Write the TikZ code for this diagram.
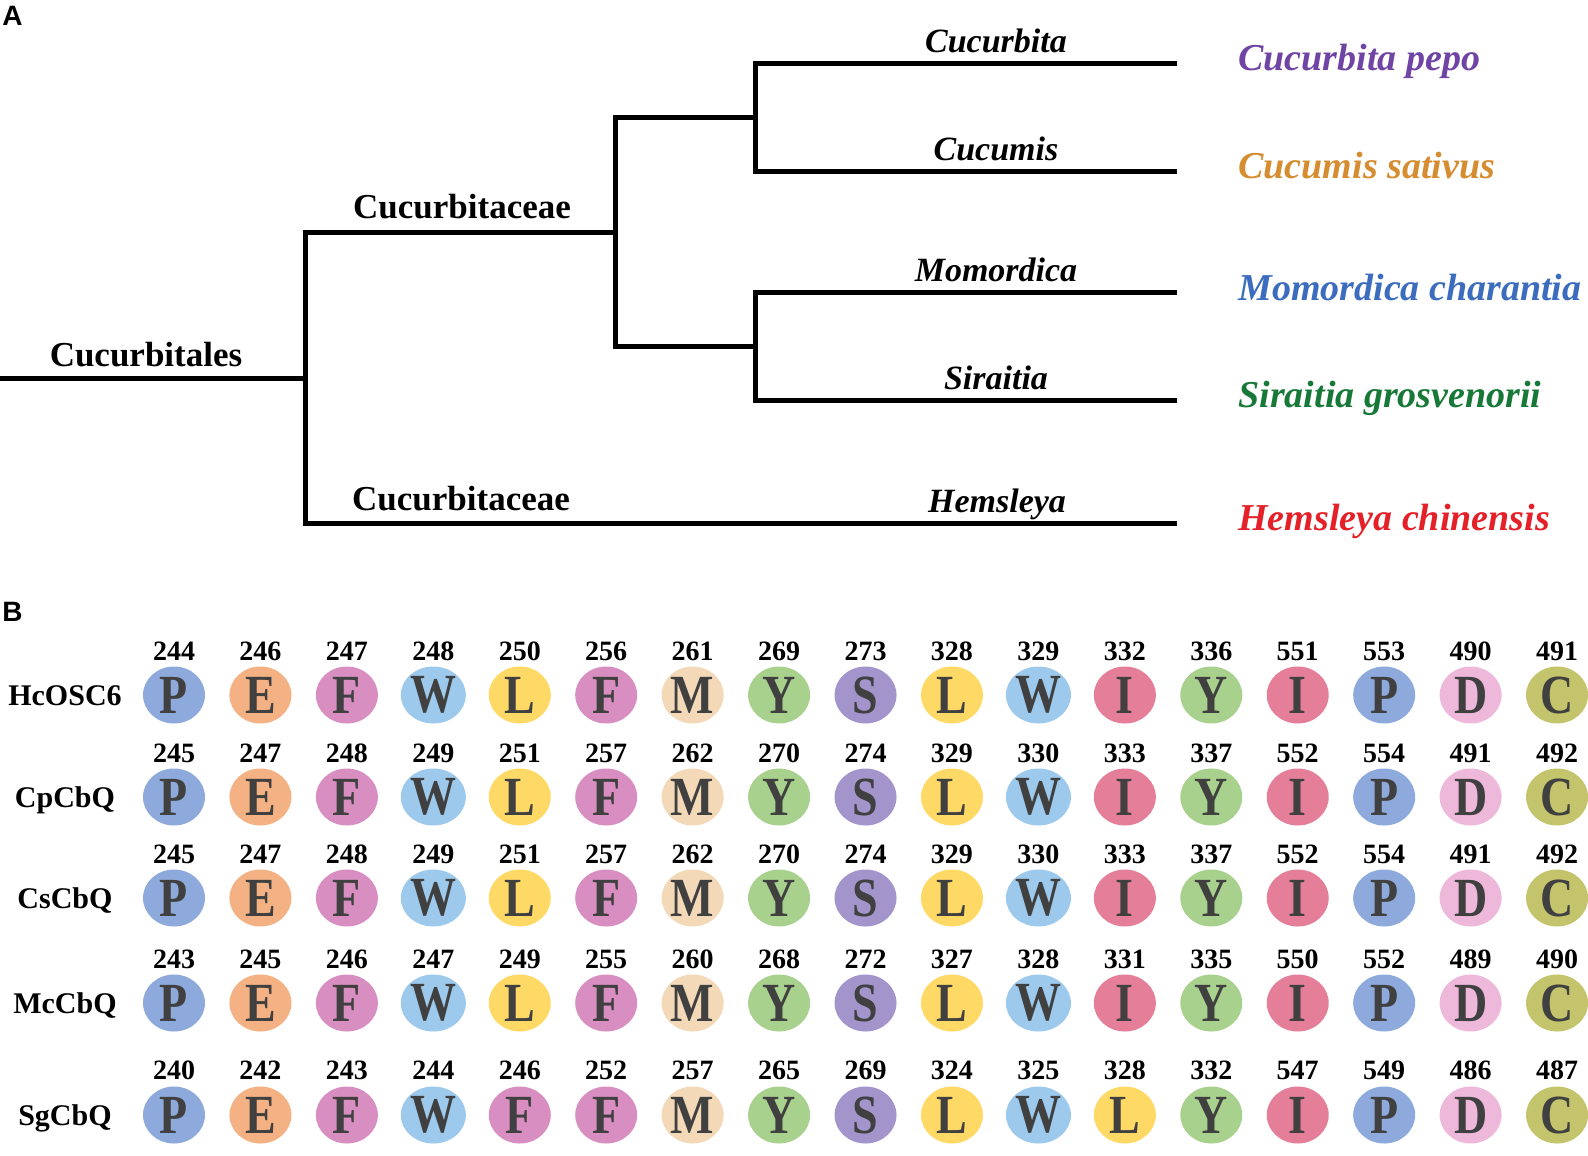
\documentclass[tikz,border=0pt]{standalone}
\usepackage{graphicx}
\usepackage{fontspec}
\setmainfont{Liberation Serif}
\newfontfamily\panelfont{Liberation Sans}
\usetikzlibrary{shapes.geometric}
\definecolor{resP}{HTML}{8EA9DB}
\definecolor{resE}{HTML}{F4B183}
\definecolor{resF}{HTML}{D98EC1}
\definecolor{resW}{HTML}{9DC9EC}
\definecolor{resL}{HTML}{FFD966}
\definecolor{resM}{HTML}{F3D9B8}
\definecolor{resY}{HTML}{A9D18E}
\definecolor{resS}{HTML}{A394CC}
\definecolor{resI}{HTML}{E57E99}
\definecolor{resD}{HTML}{EEB8DB}
\definecolor{resC}{HTML}{C4C46C}
\definecolor{letter}{HTML}{404040}
\definecolor{spCp}{HTML}{7044A4}
\definecolor{spCs}{HTML}{D68C30}
\definecolor{spMc}{HTML}{3C6CBE}
\definecolor{spSg}{HTML}{187838}
\definecolor{spHc}{HTML}{E42028}
\tikzset{
  branch/.style={line width=2.5pt, line join=miter},
  clade/.style={font=\fontsize{17.5}{17.5}\selectfont\bfseries, inner sep=0pt, anchor=base},
  genus/.style={font=\fontsize{17}{17}\selectfont\bfseries\itshape, inner sep=0pt, anchor=base},
  species/.style={font=\fontsize{19}{19}\selectfont\bfseries\itshape, inner sep=0pt, anchor=base west},
  panel/.style={font=\fontsize{14}{14}\selectfont\panelfont\bfseries, inner sep=0pt, anchor=base west},
  seqname/.style={font=\fontsize{15}{15}\selectfont\bfseries, inner sep=0pt, anchor=base},
  resnum/.style={font=\fontsize{14}{14}\selectfont\bfseries, inner sep=0pt, anchor=base},
  residue/.style={ellipse, minimum width=31pt, minimum height=28.5pt, inner sep=0pt,
    text=letter, font=\fontsize{23}{23}\selectfont\bfseries},
}
\newcommand{\Sc}[1]{\scalebox{1}[1.2]{#1}}

\begin{document}
\begin{tikzpicture}[x=0.5pt, y=-0.5pt]
\useasboundingbox (0,0) rectangle (1588,1155);

%%%%%%%%%%%%%%%%%%%%%%%%%%%%%%%%%%%%%%%%%%%%%%%%%%%%%%%%%%%%%% panel-A
\node[panel] (pA) at (2,26) {A};

\coordinate (start) at (0,378);
\coordinate (n1) at (305,378);
\coordinate (n2) at (615,232);
\coordinate (n3) at (755,118);
\coordinate (n4) at (755,346);
\coordinate (tCp) at (1177,64);
\coordinate (tCs) at (1177,172);
\coordinate (tMc) at (1177,292);
\coordinate (tSg) at (1177,400);
\coordinate (tHc) at (1177,523);

\draw[branch] (start) -- (n1);
\draw[branch] (n2) -| (n1) |- (tHc);
\draw[branch] (n3) -| (n2) |- (n4);
\draw[branch] (tCp) -| (n3) |- (tCs);
\draw[branch] (tMc) -| (n4) |- (tSg);

\node[clade] (lOrder) at (146,366) {Cucurbitales};
\node[clade] (lFamA) at (462,219) {Cucurbitaceae};
\node[clade] (lFamB) at (461,510) {Cucurbitaceae};

\node[genus] (gCp) at (996,53) {Cucurbita};
\node[genus] (gCs) at (996,161) {Cucumis};
\node[genus] (gMc) at (996,281) {Momordica};
\node[genus] (gSg) at (996,389) {Siraitia};
\node[genus] (gHc) at (997,512) {Hemsleya};

\node[species, text=spCp] (sCp) at (1238,71) {Cucurbita pepo};
\node[species, text=spCs] (sCs) at (1238,179) {Cucumis sativus};
\node[species, text=spMc] (sMc) at (1238,300) {Momordica charantia};
\node[species, text=spSg] (sSg) at (1238,407) {Siraitia grosvenorii};
\node[species, text=spHc] (sHc) at (1238,530) {Hemsleya chinensis};

%%%%%%%%%%%%%%%%%%%%%%%%%%%%%%%%%%%%%%%%%%%%%%%%%%%%%%%%%%%%%% panel-B
\node[panel] (pB) at (2,621) {B};

%%%%%%%%%%%%%%%%%%%%%%%%%%%%%%%%%%%%%%%%%%%%%%%%%%%%%%%%%%%%%% row-HcOSC6
\node[seqname] (rHc) at (65,705) {HcOSC6};
\foreach \r/\n [count=\i from 0] in {P/244,E/246,F/247,W/248,L/250,F/256,M/261,Y/269,S/273,L/328,W/329,I/332,Y/336,I/551,P/553,D/490,C/491}{
  \node[residue, fill=res\r] (hc\i) at ({174+86.44*\i},695) {\Sc{\r}};
  \node[resnum] (hcn\i) at ({174+86.44*\i},660) {\n};
}

%%%%%%%%%%%%%%%%%%%%%%%%%%%%%%%%%%%%%%%%%%%%%%%%%%%%%%%%%%%%%% row-CpCbQ
\node[seqname] (rCp) at (65,807) {CpCbQ};
\foreach \r/\n [count=\i from 0] in {P/245,E/247,F/248,W/249,L/251,F/257,M/262,Y/270,S/274,L/329,W/330,I/333,Y/337,I/552,P/554,D/491,C/492}{
  \node[residue, fill=res\r] (cp\i) at ({174+86.44*\i},797) {\Sc{\r}};
  \node[resnum] (cpn\i) at ({174+86.44*\i},762) {\n};
}

%%%%%%%%%%%%%%%%%%%%%%%%%%%%%%%%%%%%%%%%%%%%%%%%%%%%%%%%%%%%%% row-CsCbQ
\node[seqname] (rCs) at (65,908) {CsCbQ};
\foreach \r/\n [count=\i from 0] in {P/245,E/247,F/248,W/249,L/251,F/257,M/262,Y/270,S/274,L/329,W/330,I/333,Y/337,I/552,P/554,D/491,C/492}{
  \node[residue, fill=res\r] (cs\i) at ({174+86.44*\i},898) {\Sc{\r}};
  \node[resnum] (csn\i) at ({174+86.44*\i},863) {\n};
}

%%%%%%%%%%%%%%%%%%%%%%%%%%%%%%%%%%%%%%%%%%%%%%%%%%%%%%%%%%%%%% row-McCbQ
\node[seqname] (rMc) at (65,1013) {McCbQ};
\foreach \r/\n [count=\i from 0] in {P/243,E/245,F/246,W/247,L/249,F/255,M/260,Y/268,S/272,L/327,W/328,I/331,Y/335,I/550,P/552,D/489,C/490}{
  \node[residue, fill=res\r] (mc\i) at ({174+86.44*\i},1003) {\Sc{\r}};
  \node[resnum] (mcn\i) at ({174+86.44*\i},968) {\n};
}

%%%%%%%%%%%%%%%%%%%%%%%%%%%%%%%%%%%%%%%%%%%%%%%%%%%%%%%%%%%%%% row-SgCbQ
\node[seqname] (rSg) at (65,1125) {SgCbQ};
\foreach \r/\n [count=\i from 0] in {P/240,E/242,F/243,W/244,F/246,F/252,M/257,Y/265,S/269,L/324,W/325,L/328,Y/332,I/547,P/549,D/486,C/487}{
  \node[residue, fill=res\r] (sg\i) at ({174+86.44*\i},1115) {\Sc{\r}};
  \node[resnum] (sgn\i) at ({174+86.44*\i},1079) {\n};
}

\end{tikzpicture}
\end{document}
